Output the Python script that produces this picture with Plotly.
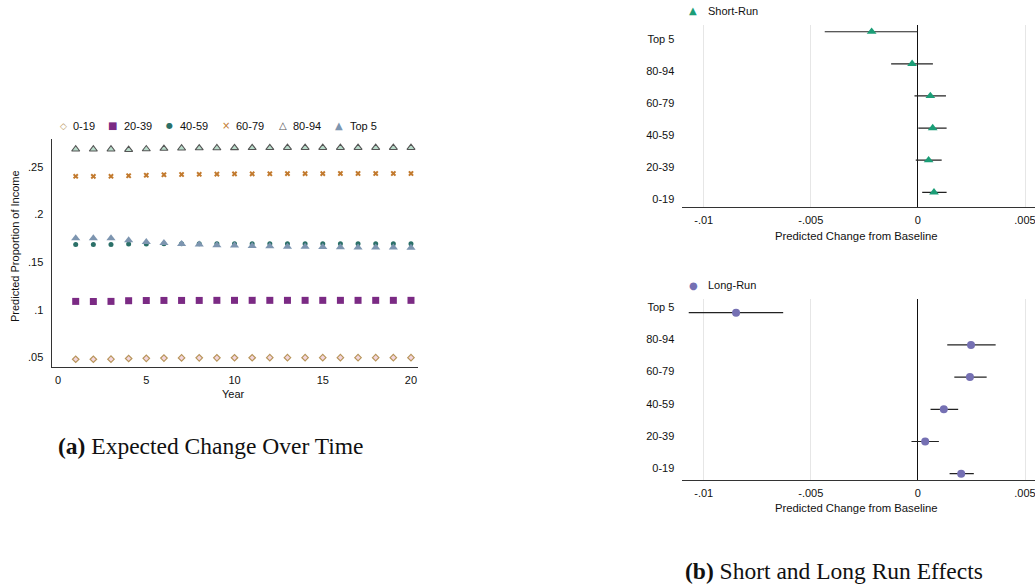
import plotly.graph_objects as go

W, H = 1035, 586

# ---------------- data ----------------
years = list(range(1, 21))
groups = ["0-19", "20-39", "40-59", "60-79", "80-94", "Top 5"]

share_0_19 = [0.0480, 0.0480, 0.0481, 0.0488, 0.0490, 0.0492, 0.0494, 0.0495, 0.0495, 0.0496,
              0.0496, 0.0497, 0.0497, 0.0497, 0.0497, 0.0497, 0.0497, 0.0497, 0.0497, 0.0497]
share_20_39 = [0.1087, 0.1086, 0.1087, 0.1094, 0.1096, 0.1097, 0.1097, 0.1097, 0.1098, 0.1098,
               0.1098, 0.1098, 0.1098, 0.1098, 0.1098, 0.1098, 0.1098, 0.1098, 0.1098, 0.1098]
share_40_59 = [0.1683, 0.1684, 0.1684, 0.1688, 0.1690, 0.1691, 0.1691, 0.1692, 0.1692, 0.1692,
               0.1692, 0.1692, 0.1692, 0.1692, 0.1692, 0.1692, 0.1692, 0.1692, 0.1692, 0.1692]
share_60_79 = [0.2399, 0.2398, 0.2399, 0.2405, 0.2410, 0.2415, 0.2418, 0.2420, 0.2422, 0.2424,
               0.2425, 0.2426, 0.2427, 0.2427, 0.2427, 0.2428, 0.2428, 0.2428, 0.2428, 0.2428]
share_80_94 = [0.2683, 0.2683, 0.2683, 0.2678, 0.2685, 0.2690, 0.2693, 0.2695, 0.2696, 0.2697,
               0.2698, 0.2698, 0.2699, 0.2699, 0.2699, 0.2699, 0.2699, 0.2699, 0.2699, 0.2699]
share_top5 = [0.1748, 0.1750, 0.1749, 0.1728, 0.1710, 0.1700, 0.1690, 0.1683, 0.1677, 0.1672,
              0.1667, 0.1664, 0.1661, 0.1659, 0.1657, 0.1655, 0.1653, 0.1652, 0.1651, 0.1650]

# coefficient plots (ordered 0-19 ... Top 5)
sr_est = [0.00075, 0.00050, 0.00069, 0.00058, -0.00027, -0.00216]
sr_lo = [0.00020, -0.00010, 0.00002, -0.00016, -0.00125, -0.00435]
sr_hi = [0.00134, 0.00111, 0.00134, 0.00131, 0.00070, 0.00000]

lr_est = [0.00202, 0.00034, 0.00121, 0.00243, 0.00248, -0.00849]
lr_lo = [0.00148, -0.00030, 0.00059, 0.00170, 0.00137, -0.01070]
lr_hi = [0.00261, 0.00098, 0.00188, 0.00321, 0.00363, -0.00629]

left_xticks = [0, 5, 10, 15, 20]
left_yticks = [0.05, 0.10, 0.15, 0.20, 0.25]
left_yticktext = [".05", ".1", ".15", ".2", ".25"]
coef_xticks = [-0.01, -0.005, 0, 0.005]
coef_xticktext = ["-.01", "-.005", "0", ".005"]

# ---------------- styling ----------------
SANS = "Liberation Sans, Arial, sans-serif"
SERIF = "Liberation Serif, Times New Roman, serif"
AX = "#333333"

def px(x):
    return x / W

def py(y):
    return 1 - y / H

fig = go.Figure()

left_series = [
    ("0-19", share_0_19, dict(symbol="diamond", size=5, color="#f3d6de", line=dict(color="#b8955a", width=1.2))),
    ("20-39", share_20_39, dict(symbol="square", size=7, color="#7b2a84", line=dict(width=0))),
    ("40-59", share_40_59, dict(symbol="circle", size=5, color="#2b7068", line=dict(width=0))),
    ("60-79", share_60_79, dict(symbol="x", size=5, color="#c27a2e", line=dict(width=0))),
    ("80-94", share_80_94, dict(symbol="triangle-up", size=7, color="#b9dccb", line=dict(color="#555555", width=1.1))),
    ("Top 5", share_top5, dict(symbol="triangle-up", size=8, color="#7d95b0", line=dict(width=0))),
]
for name, vals, mk in left_series:
    fig.add_trace(go.Scatter(x=years, y=vals, mode="markers", name=name, marker=mk,
                             xaxis="x", yaxis="y", showlegend=False, cliponaxis=False))

pos = list(range(len(groups)))

fig.add_trace(go.Scatter(
    x=sr_est, y=pos, mode="markers", name="Short-Run", xaxis="x2", yaxis="y2", showlegend=False,
    marker=dict(symbol="triangle-up", size=8.5, color="#1b9e77"),
    error_x=dict(type="data", symmetric=False,
                 array=[h - e for h, e in zip(sr_hi, sr_est)],
                 arrayminus=[e - l for e, l in zip(sr_est, sr_lo)],
                 width=0, thickness=1.2, color="#222222"),
    cliponaxis=False))

fig.add_trace(go.Scatter(
    x=lr_est, y=pos, mode="markers", name="Long-Run", xaxis="x3", yaxis="y3", showlegend=False,
    marker=dict(symbol="circle", size=8, color="#7570b3"),
    error_x=dict(type="data", symmetric=False,
                 array=[h - e for h, e in zip(lr_hi, lr_est)],
                 arrayminus=[e - l for e, l in zip(lr_est, lr_lo)],
                 width=0, thickness=1.2, color="#222222"),
    cliponaxis=False))

tickfont = dict(family=SANS, size=11, color="#111111")

coef_x = dict(range=[-0.011, 0.005467], tickvals=coef_xticks, ticktext=coef_xticktext,
              showgrid=True, gridcolor="#e6e6e6", gridwidth=1,
              zeroline=True, zerolinecolor="#111111", zerolinewidth=1.2,
              showline=True, linecolor=AX, linewidth=1.3, ticks="", tickfont=tickfont,
              ticklabelstandoff=3, ticklabeloverflow="allow")

fig.update_layout(
    width=W, height=H, margin=dict(l=0, r=0, t=0, b=0),
    paper_bgcolor="white", plot_bgcolor="white", showlegend=False,
    xaxis=dict(domain=[px(51.7), px(417.7)], range=[-0.36, 20.38], tickvals=left_xticks,
               showgrid=False, zeroline=False, showline=True, linecolor=AX, linewidth=1.3,
               ticks="", tickfont=tickfont, anchor="y", ticklabelstandoff=3),
    yaxis=dict(domain=[py(366.7), py(139.3)], range=[0.0402, 0.2787], tickvals=left_yticks,
               ticktext=left_yticktext, showgrid=False, zeroline=False, showline=True,
               linecolor=AX, linewidth=1.3, ticks="", tickfont=tickfont, anchor="x",
               ticklabelstandoff=5),
    xaxis2=dict(domain=[px(682.3), 1.0], anchor="y2", **coef_x),
    yaxis2=dict(domain=[py(206.7), py(25)], range=[-0.448, 5.21], anchor="x2",
                tickvals=[p - 0.22 for p in pos], ticktext=groups,
                showgrid=False, zeroline=False, showline=False, ticks="",
                tickfont=tickfont, ticklabelstandoff=7),
    xaxis3=dict(domain=[px(682.3), 1.0], anchor="y3", **coef_x),
    yaxis3=dict(domain=[py(480), py(299.3)], range=[-0.196, 5.416], anchor="x3",
                tickvals=[p + 0.17 for p in pos], ticktext=groups,
                showgrid=False, zeroline=False, showline=False, ticks="",
                tickfont=tickfont, ticklabelstandoff=7),
)

ann = []

def text(x, y, s, size=11, xanchor="center", yanchor="middle", color="#111111", family=SANS, angle=0):
    ann.append(dict(x=px(x), y=py(y), xref="paper", yref="paper", text=s, showarrow=False,
                    xanchor=xanchor, yanchor=yanchor, textangle=angle,
                    font=dict(family=family, size=size, color=color)))

# left legend (symbols + labels)
leg_sym = [("◇", "#b8955a", 9), ("■", "#7b2a84", 10), ("●", "#2b7068", 8),
           ("×", "#c27a2e", 10), ("△", "#555555", 10), ("▲", "#7d95b0", 10)]
sym_x = [63.3, 112.7, 169.3, 225.7, 282.7, 339]
lab_x = [71, 121.7, 177.7, 234.3, 291, 347.7]
for (s, c, sz), sx, lx, g in zip(leg_sym, sym_x, lab_x, groups):
    text(sx, 125.7, s, size=sz, color=c, family="DejaVu Sans")
    text(lx, 125.7, g, xanchor="left")

# axis titles
text(233, 394, "Year")
text(15, 246, "Predicted Proportion of Income", angle=-90)
text(856.3, 235.7, "Predicted Change from Baseline", size=11.3)
text(856.3, 508.3, "Predicted Change from Baseline", size=11.3)

# right legends
text(693.3, 11, "▲", size=10, color="#1b9e77", family="DejaVu Sans")
text(706, 11, "Short-Run", xanchor="left")
text(693.3, 285, "●", size=10, color="#7570b3", family="DejaVu Sans")
text(706, 285, "Long-Run", xanchor="left")

# captions
text(210, 446, "<b>(a)</b> Expected Change Over Time", size=23.5, family=SERIF)
text(834, 571, "<b>(b)</b> Short and Long Run Effects", size=23.5, family=SERIF)

fig.update_layout(annotations=ann)

fig.write_html("out.html", config={"displayModeBar": False},
               post_script="document.body.style.margin='0px';document.body.style.overflow='hidden';")
